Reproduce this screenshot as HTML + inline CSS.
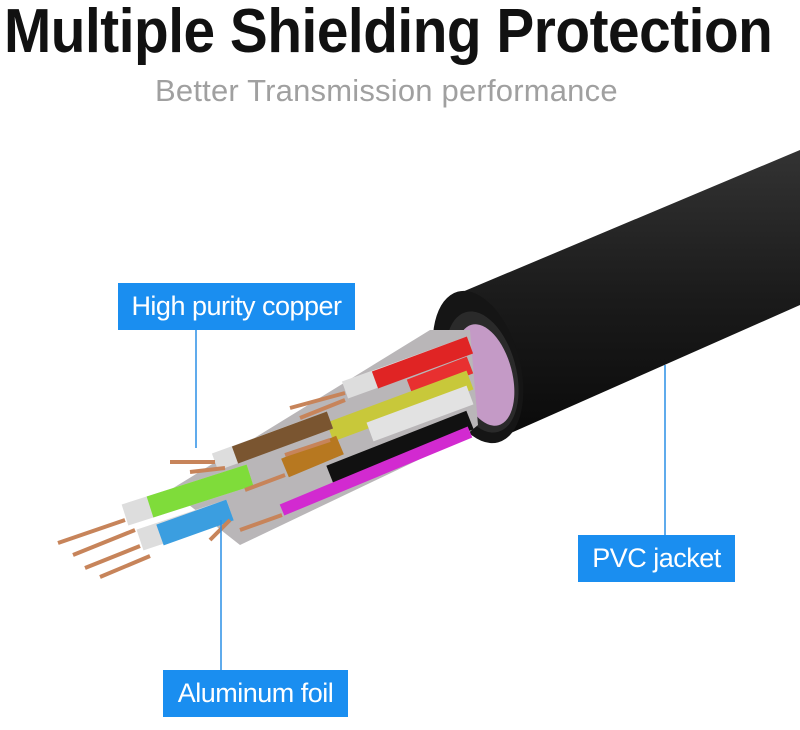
<!DOCTYPE html>
<html><head><style>
html,body{margin:0;padding:0;background:#fff;width:800px;height:730px;overflow:hidden;position:relative;font-family:"Liberation Sans",sans-serif}
.t{position:absolute;left:4px;top:-4px;font-size:62px;font-weight:bold;color:#111;white-space:nowrap;letter-spacing:-0.5px;transform:scaleX(0.915);transform-origin:0 0}
.s{position:absolute;left:155px;top:73px;font-size:31px;color:#a0a0a0;white-space:nowrap;letter-spacing:0.2px}
.b{position:absolute;background:#1a8ef0;color:#fff;font-size:27px;display:flex;align-items:center;justify-content:center;white-space:nowrap;letter-spacing:-0.5px}
svg{position:absolute;left:0;top:0}
</style></head><body>
<div class="t">Multiple Shielding Protection</div>
<div class="s">Better Transmission performance</div>
<svg width="800" height="730">
<defs>
<linearGradient id="jk" x1="0" y1="0" x2="0" y2="1"><stop offset="0" stop-color="#333"/><stop offset=".5" stop-color="#1b1b1b"/><stop offset="1" stop-color="#0a0a0a"/></linearGradient>
</defs>
<polygon points="455,295 800,150 800,305 495,440" fill="url(#jk)"/>
<ellipse cx="478" cy="367" rx="42" ry="78" transform="rotate(-15 478 367)" fill="#151515"/>
<ellipse cx="482" cy="372" rx="34" ry="62" transform="rotate(-15 482 372)" fill="#2a2a2a"/>
<ellipse cx="485" cy="375" rx="27" ry="52" transform="rotate(-15 485 375)" fill="#c49ac6"/>
<polygon points="430,330 470,330 478,425 460,440 240,545 170,490" fill="#b9b6b8"/>
<g stroke-linecap="butt">
<line x1="470" y1="345" x2="345" y2="390" stroke="#ddd" stroke-width="18"/>
<line x1="470" y1="345" x2="375" y2="380" stroke="#e02424" stroke-width="18"/>
<line x1="470" y1="365" x2="410" y2="388" stroke="#e83030" stroke-width="18"/>
<line x1="470" y1="380" x2="330" y2="432" stroke="#c8c83a" stroke-width="20"/>
<line x1="470" y1="395" x2="370" y2="432" stroke="#e2e2e2" stroke-width="20"/>
<line x1="330" y1="420" x2="215" y2="462" stroke="#ddd" stroke-width="18"/>
<line x1="330" y1="420" x2="235" y2="455" stroke="#7a5530" stroke-width="18"/>
<line x1="470" y1="420" x2="330" y2="475" stroke="#111" stroke-width="20"/>
<line x1="340" y1="445" x2="285" y2="468" stroke="#b77820" stroke-width="20"/>
<line x1="470" y1="432" x2="282" y2="510" stroke="#d22ad0" stroke-width="12"/>
<line x1="250" y1="475" x2="125" y2="515" stroke="#ddd" stroke-width="22"/>
<line x1="250" y1="475" x2="150" y2="507" stroke="#7fdc3a" stroke-width="22"/>
<line x1="230" y1="510" x2="140" y2="540" stroke="#ddd" stroke-width="22"/>
<line x1="230" y1="510" x2="160" y2="535" stroke="#3b9ee0" stroke-width="22"/>
</g>
<g stroke="#c7845a" stroke-width="4">
<line x1="125" y1="520" x2="58" y2="543"/><line x1="135" y1="530" x2="73" y2="555"/>
<line x1="140" y1="546" x2="85" y2="568"/><line x1="150" y1="556" x2="100" y2="577"/>
<line x1="215" y1="462" x2="170" y2="462"/><line x1="225" y1="468" x2="190" y2="472"/>
<line x1="345" y1="393" x2="290" y2="408"/><line x1="345" y1="400" x2="300" y2="418"/>
<line x1="330" y1="440" x2="285" y2="455"/><line x1="285" y1="475" x2="245" y2="490"/>
<line x1="282" y1="515" x2="240" y2="530"/><line x1="230" y1="520" x2="210" y2="540"/>
</g>
<line x1="196" y1="330" x2="196" y2="448" stroke="#2a8fe6" stroke-width="1.5"/>
<line x1="221" y1="520" x2="221" y2="670" stroke="#2a8fe6" stroke-width="1.5"/>
<line x1="665" y1="365" x2="665" y2="535" stroke="#2a8fe6" stroke-width="1.5"/>
</svg>
<div class="b" style="left:118px;top:283px;width:237px;height:47px">High purity copper</div>
<div class="b" style="left:578px;top:535px;width:157px;height:47px">PVC jacket</div>
<div class="b" style="left:163px;top:670px;width:185px;height:47px">Aluminum foil</div>
</body></html>
